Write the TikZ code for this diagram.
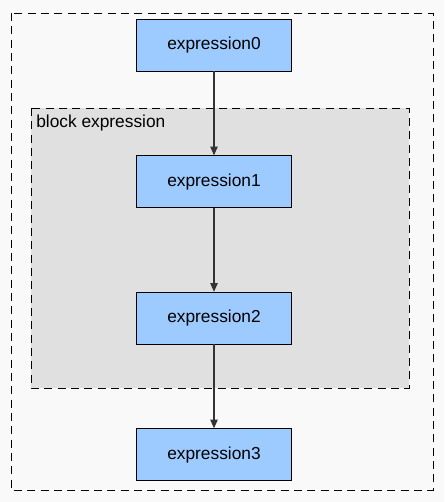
\documentclass[tikz,border=0pt]{standalone}
\usepackage{fontspec}
\setmainfont{Liberation Sans}
\usetikzlibrary{positioning, arrows.meta}

\definecolor{exprblue}{HTML}{9ECBFF}
\definecolor{blockgray}{HTML}{E0E0E0}
\definecolor{pagegray}{HTML}{F9F9F9}
\definecolor{linegray}{HTML}{333333}

\tikzset{
    expr/.style={draw=black, fill=exprblue, minimum width=116pt, minimum height=39pt, font=\fontsize{13}{15}\selectfont, inner sep=0pt},
    flow/.style={-{Triangle[length=6.5pt, width=5.5pt]}, draw=linegray, line width=1pt},
    frame/.style={draw=black, line width=0.7pt, dash pattern=on 6pt off 4pt}
}

\begin{document}
\begin{tikzpicture}[x=0.75pt, y=-0.75pt, node distance=63pt]
    \fill[pagegray] (0,0) rectangle (444,502);
    \useasboundingbox (0,0) rectangle (444,502);
    \draw[frame] (11,13) rectangle (433,490);
    \draw[frame, fill=blockgray] (31,108) rectangle (409,388);
    \node[anchor=north west, inner sep=0pt, font=\fontsize{13}{15}\selectfont] (blocklabel) at (36,115) {block expression};

    \node[expr] (e0) at (214,45) {expression0};
    \node[expr] (e1) [below=of e0] {expression1};
    \node[expr] (e2) [below=of e1] {expression2};
    \node[expr] (e3) [below=of e2] {expression3};

    \draw[flow] (e0) -- (e1);
    \draw[flow] (e1) -- (e2);
    \draw[flow] (e2) -- (e3);
\end{tikzpicture}
\end{document}
